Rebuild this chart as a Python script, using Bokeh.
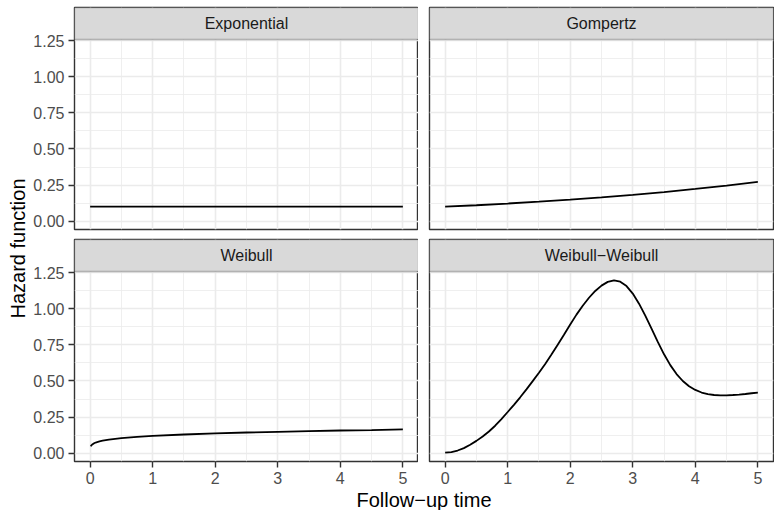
import numpy as np
from bokeh.plotting import figure
from bokeh.layouts import row, column
from bokeh.models import Range1d, FixedTicker, BoxAnnotation, Label, NumeralTickFormatter
from bokeh.embed import file_html
from bokeh.resources import INLINE

# ---------------- data ----------------
panel_names = ["Exponential", "Gompertz", "Weibull", "Weibull\u2212Weibull"]

exp_t = [0.0, 5.0]
exp_h = [0.100, 0.100]

gom_t = [0.0, 0.5, 1.0, 1.5, 2.0, 2.5, 3.0, 3.5, 4.0, 4.5, 5.0]
gom_h = [0.100, 0.110, 0.122, 0.135, 0.149, 0.165, 0.182, 0.201, 0.223, 0.246, 0.272]

wei_t = [0.01, 0.02, 0.04, 0.07, 0.1, 0.15, 0.2, 0.3, 0.4, 0.5, 0.75, 1.0, 1.5, 2.0, 2.5, 3.0, 3.5, 4.0, 4.5, 5.0]
wei_h = [0.047, 0.054, 0.062, 0.070, 0.075, 0.081, 0.086, 0.094, 0.099, 0.104, 0.112, 0.119, 0.129, 0.137, 0.143, 0.148, 0.153, 0.157, 0.160, 0.164]

ww_t = [0.0, 0.1, 0.2, 0.3, 0.4, 0.5, 0.6, 0.7, 0.8, 0.9,
        1.0, 1.1, 1.2, 1.3, 1.4, 1.5, 1.6, 1.7, 1.8, 1.9,
        2.0, 2.1, 2.2, 2.3, 2.4, 2.5, 2.6, 2.7, 2.8, 2.9,
        3.0, 3.1, 3.2, 3.3, 3.4, 3.5, 3.6, 3.7, 3.8, 3.9,
        4.0, 4.1, 4.2, 4.3, 4.4, 4.5, 4.6, 4.7, 4.8, 4.9, 5.0]
ww_h = [0.003, 0.007, 0.018, 0.035, 0.058, 0.085, 0.115, 0.150, 0.190, 0.236,
        0.285, 0.335, 0.387, 0.442, 0.499, 0.557, 0.618, 0.683, 0.751, 0.821,
        0.892, 0.960, 1.022, 1.077, 1.124, 1.161, 1.187, 1.198, 1.188, 1.158,
        1.106, 1.036, 0.953, 0.863, 0.771, 0.685, 0.610, 0.548, 0.500, 0.464,
        0.438, 0.420, 0.409, 0.403, 0.401, 0.401, 0.403, 0.406, 0.410, 0.415, 0.420]

x_ticks = [0, 1, 2, 3, 4, 5]
x_tick_labels = ["0", "1", "2", "3", "4", "5"]
x_minor = [0.5, 1.5, 2.5, 3.5, 4.5]
y_ticks = [0.0, 0.25, 0.5, 0.75, 1.0, 1.25]
y_tick_labels = ["0.00", "0.25", "0.50", "0.75", "1.00", "1.25"]
y_minor = [0.125, 0.375, 0.625, 0.875, 1.125]

x_title = "Follow\u2212up time"
y_title = "Hazard function"

# ---------------- layout constants ----------------
X_LO, X_HI = -0.25, 5.25
Y_LO, Y_HI = -0.058, 1.259
PANEL_H = 190
STRIP_H = 32
FRAME_W = 344
FRAME_H = PANEL_H + STRIP_H
Y_TOP = Y_HI + STRIP_H * (Y_HI - Y_LO) / PANEL_H

FONT = "Liberation Sans"
DARK = "#333333"
GRID = "#EBEBEB"

YFIG_W = 30
LEFT_MB = 44
GAP = 11
RIGHT_MB = 1
TOP_MB_TOP = 7
TOP_MB_BOT = 5
BOT_MB_TOP = 5
BOT_MB_BOT = 28
TOTAL_W = 774
TOTAL_H = 510


def make_panel(name, t, h, left_axis, bottom_axis):
    w = (LEFT_MB if left_axis else GAP) + FRAME_W + (0 if left_axis else RIGHT_MB)
    mbt = BOT_MB_TOP if bottom_axis else TOP_MB_TOP
    mbb = BOT_MB_BOT if bottom_axis else TOP_MB_BOT
    hgt = mbt + FRAME_H + mbb
    p = figure(width=w, height=hgt, title=None,
               x_range=Range1d(X_LO, X_HI), y_range=Range1d(Y_LO, Y_TOP),
               output_backend="svg", toolbar_location=None,
               x_axis_location="below" if bottom_axis else None,
               y_axis_location="left" if left_axis else None,
               min_border_left=LEFT_MB if left_axis else GAP,
               min_border_right=0 if left_axis else RIGHT_MB,
               min_border_top=mbt, min_border_bottom=mbb)
    p.outline_line_color = DARK
    p.outline_line_width = 1.4
    p.background_fill_color = "white"
    p.border_fill_color = "white"

    p.xgrid.ticker = FixedTicker(ticks=x_ticks, minor_ticks=x_minor)
    p.ygrid.ticker = FixedTicker(ticks=y_ticks, minor_ticks=y_minor)
    for g in (p.xgrid, p.ygrid):
        g.grid_line_color = GRID
        g.grid_line_width = 1.6
        g.minor_grid_line_color = GRID
        g.minor_grid_line_width = 0.8

    for ax in p.xaxis:
        ax.ticker = FixedTicker(ticks=x_ticks)
        ax.major_label_overrides = dict(zip(x_ticks, x_tick_labels))
    for ax in p.yaxis:
        ax.ticker = FixedTicker(ticks=y_ticks)
        ax.formatter = NumeralTickFormatter(format="0.00")
        ax.major_label_overrides = dict(zip(y_ticks, y_tick_labels))
    for ax in p.axis:
        ax.axis_line_color = None
        ax.major_tick_line_color = DARK
        ax.major_tick_line_width = 1.4
        ax.major_tick_out = 6
        ax.major_tick_in = 0
        ax.minor_tick_line_color = None
        ax.major_label_text_font = FONT
        ax.major_label_text_font_size = "16px"
        ax.major_label_text_color = "#4D4D4D"
        ax.major_label_standoff = 4

    p.line(t, h, line_color="black", line_width=1.8)

    strip = BoxAnnotation(bottom=Y_HI, fill_color="#D9D9D9", fill_alpha=1.0,
                          line_color=DARK, line_width=1.4)
    p.add_layout(strip)
    p.add_layout(Label(x=(X_LO + X_HI) / 2, y=(Y_HI + Y_TOP) / 2, text=name,
                       text_align="center", text_baseline="middle",
                       text_font=FONT, text_font_size="16px", text_color="#1A1A1A"))
    return p


def blank(w, h):
    f = figure(width=w, height=h, title=None, x_range=Range1d(0, w), y_range=Range1d(0, h),
               output_backend="svg", toolbar_location=None,
               x_axis_location=None, y_axis_location=None, min_border=0)
    f.outline_line_color = None
    f.grid.visible = False
    f.background_fill_color = "white"
    f.border_fill_color = "white"
    return f


p1 = make_panel(panel_names[0], exp_t, exp_h, True, False)
p2 = make_panel(panel_names[1], gom_t, gom_h, False, False)
p3 = make_panel(panel_names[2], wei_t, wei_h, True, True)
p4 = make_panel(panel_names[3], ww_t, ww_h, False, True)

top_h = TOP_MB_TOP + FRAME_H + TOP_MB_BOT
bot_h = BOT_MB_TOP + FRAME_H + BOT_MB_BOT
xfig_h = TOTAL_H - top_h - bot_h
xfig_w = TOTAL_W - YFIG_W

yfig = blank(YFIG_W, TOTAL_H)
yfig.add_layout(Label(x=17, y=TOTAL_H - 248, text=y_title, angle=np.pi / 2,
                      text_align="center", text_baseline="middle",
                      text_font=FONT, text_font_size="20px", text_color="black"))

xfig = blank(xfig_w, xfig_h)
xfig.add_layout(Label(x=423.5 - YFIG_W, y=TOTAL_H - 499, text=x_title,
                      text_align="center", text_baseline="middle",
                      text_font=FONT, text_font_size="20px", text_color="black"))

layout = row(yfig, column(row(p1, p2), row(p3, p4), xfig))

open("out.html", "w").write(file_html(layout, INLINE))
